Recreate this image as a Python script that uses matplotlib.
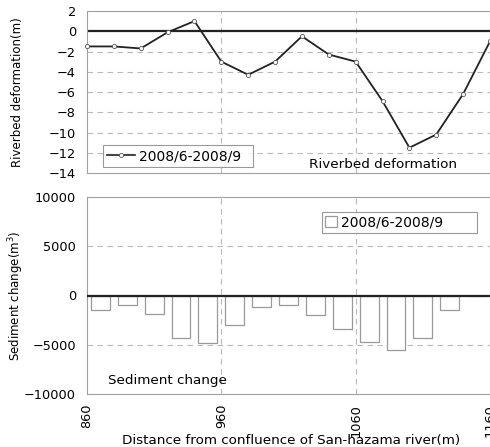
import matplotlib
matplotlib.use("Agg")
import matplotlib.pyplot as plt
from matplotlib.lines import Line2D
from matplotlib.patches import Patch

plt.rcParams['font.family'] = ['DejaVu Sans']

# Data
distance_pts = [860, 880, 900, 920, 940, 960, 980, 1000, 1020, 1040, 1060, 1080, 1100, 1120, 1140, 1160]
riverbed_def = [-1.5, -1.5, -1.7, -0.1, 1.0, -3.0, -4.3, -3.0, -0.5, -2.3, -3.0, -6.9, -11.5, -10.2, -6.2, -1.0]

distance_bars = [870, 890, 910, 930, 950, 970, 990, 1010, 1030, 1050, 1070, 1090, 1110, 1130, 1150]
sediment_change = [-1500, -1000, -1900, -4300, -4800, -3000, -1200, -1000, -2000, -3400, -4700, -5500, -4300, -1500, -50]

xticks = [860, 960, 1060, 1160]
series_label = "2008/6-2008/9"

fig = plt.figure(figsize=(4.90, 4.47), dpi=100)
W, H = 490, 447
def rect(l, t, r, b):
    return [l / W, 1 - b / H, (r - l) / W, (b - t) / H]

ax1 = fig.add_axes(rect(87, 11, 490, 173))
ax2 = fig.add_axes(rect(87, 197, 490, 394))

grid_kw = dict(color='#b8b8b8', linestyle=(0, (5, 4)), linewidth=0.8)
spine_col = '#a0a0a0'
fs_tick = 9.3
fs_lab = 8.5
fs_txt = 9.7
fs_leg = 10

# Top panel
ax1.set_xlim(860, 1160)
ax1.set_ylim(-14, 2)
ax1.set_yticks(range(-14, 3, 2))
ax1.set_yticklabels([f"{v}".replace('-', '\u2212') for v in range(-14, 3, 2)], fontsize=fs_tick)
ax1.set_xticks(xticks)
ax1.tick_params(axis='x', labelbottom=False, length=0)
ax1.tick_params(axis='y', length=0, pad=8)
for y in range(-12, 2, 2):
    if y != 0:
        ax1.axhline(y, zorder=0, **grid_kw)
for x in [960, 1060]:
    ax1.axvline(x, zorder=0, **grid_kw)
ax1.axhline(0, color='#222222', linewidth=1.6, zorder=1)
ax1.plot(distance_pts, riverbed_def, color='#222222', linewidth=1.3, marker='o',
         markersize=3, markerfacecolor='white', markeredgecolor='#555555',
         markeredgewidth=0.6, zorder=3, clip_on=False)
for s in ax1.spines.values():
    s.set_color(spine_col)
    s.set_linewidth(0.8)
ax1.set_ylabel("Riverbed deformation(m)", fontsize=fs_lab)
ax1.yaxis.set_label_coords((24 - 87) / 403, 0.5)
h1 = Line2D([], [], color='#222222', linewidth=1.2, marker='o', markersize=3,
            markerfacecolor='white', markeredgecolor='#555555', markeredgewidth=0.6)
leg1 = ax1.legend([h1], [series_label], loc='lower left', bbox_to_anchor=(0.04, 0.035, 0.372, 0.15),
                  mode='expand', fontsize=fs_leg, frameon=True, fancybox=False, handlelength=2.0,
                  borderaxespad=0, borderpad=0.3, handletextpad=0.3)
leg1.get_frame().set_edgecolor('#808080')
leg1.get_frame().set_linewidth(0.8)
ax1.text(0.735, 0.05, "Riverbed deformation", transform=ax1.transAxes, fontsize=fs_txt,
         ha='center', va='center')

# Bottom panel
ax2.set_xlim(860, 1160)
ax2.set_ylim(-10000, 10000)
ax2.set_yticks([-10000, -5000, 0, 5000, 10000])
ax2.set_yticklabels(['\u221210000', '\u22125000', '0', '5000', '10000'], fontsize=fs_tick)
ax2.set_xticks(xticks)
ax2.set_xticklabels([str(v) for v in xticks], rotation=90, fontsize=fs_tick)
ax2.tick_params(axis='y', length=0, pad=8)
ax2.tick_params(axis='x', length=0, pad=7)
for y in [5000, -5000]:
    ax2.axhline(y, zorder=0, **grid_kw)
for x in [960, 1060]:
    ax2.axvline(x, zorder=0, **grid_kw)
ax2.bar(distance_bars, sediment_change, width=14, facecolor='white',
        edgecolor='#999999', linewidth=0.9, zorder=2)
ax2.axhline(0, color='#222222', linewidth=1.6, zorder=3)
for s in ax2.spines.values():
    s.set_color(spine_col)
    s.set_linewidth(0.8)
ax2.set_ylabel("Sediment change(m$^3$)", fontsize=fs_lab)
ax2.yaxis.set_label_coords((26 - 87) / 403, 0.5)
ax2.set_xlabel("Distance from confluence of San-hazama river(m)", fontsize=fs_txt)
ax2.xaxis.set_label_coords((291 - 87) / 403, -(434 - 394) / 197)
h2 = Patch(facecolor='white', edgecolor='#999999', linewidth=0.9)
leg2 = ax2.legend([h2], [series_label], loc='lower left', bbox_to_anchor=(0.583, 0.817, 0.385, 0.112),
                  mode='expand', fontsize=fs_leg, frameon=True, fancybox=False, handlelength=0.8,
                  handleheight=0.8, borderaxespad=0, borderpad=0.25, handletextpad=0.3)
leg2.get_frame().set_edgecolor('#808080')
leg2.get_frame().set_linewidth(0.8)
ax2.text(0.199, 0.071, "Sediment change", transform=ax2.transAxes, fontsize=fs_txt,
         ha='center', va='center')

fig.savefig("out.png", dpi=100)
